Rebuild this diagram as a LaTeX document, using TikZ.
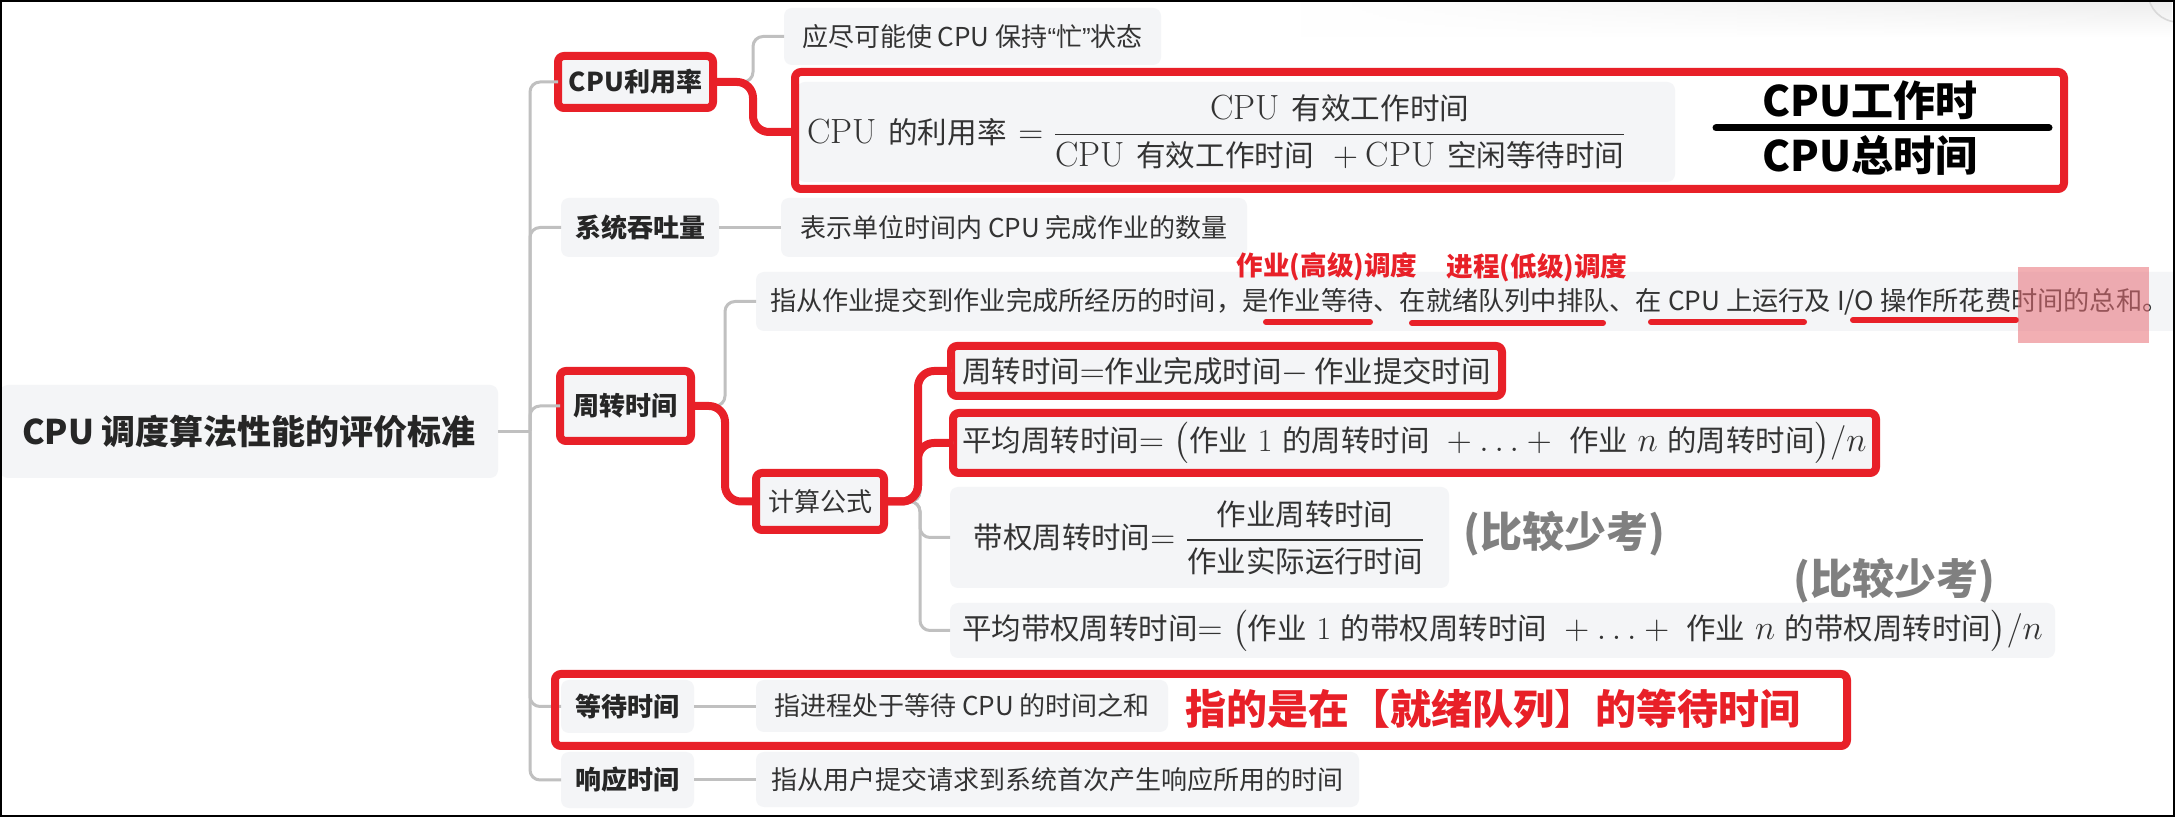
\documentclass[tikz,border=0pt]{standalone}
\usepackage{amsmath}
\usepackage{fontspec}
\usetikzlibrary{fadings}
\newfontfamily\cjk{Noto Sans CJK SC}
\newfontfamily\cjkf{Noto Sans CJK SC}[Scale=0.92]
\newfontfamily\cjkg{Noto Sans CJK SC}[Scale=0.845]
\newfontfamily\lib{Liberation Sans}
\newcommand\fsz[1]{\fontsize{#1}{#1}\selectfont}
\definecolor{boxgray}{RGB}{244,245,247}
\definecolor{conngray}{RGB}{192,192,192}
\definecolor{hlred}{RGB}{232,32,40}
\definecolor{txt}{RGB}{51,51,51}
\definecolor{grayann}{RGB}{128,128,128}
\definecolor{pinkhl}{RGB}{232,110,118}
\tikzfading[name=fadeleft, left color=transparent!100, right color=transparent!0]
\begin{document}
\begin{tikzpicture}[x=0.5pt,y=-0.5pt,
  box/.style={fill=boxgray, rounded corners=4pt, inner xsep=2pt, inner ysep=0pt, outer sep=0pt, text=txt, font=\cjk\fsz{13}, anchor=west},
  lone/.style={box, font=\cjk\bfseries\fsz{13}, text=black!85},
  hl/.style={draw=hlred, line width=4pt, rounded corners=3pt},
  mathbox/.style={box, font=\fsz{16}},
  conn/.style={draw=conngray, line width=1.5pt, rounded corners=5pt},
  hlconn/.style={draw=hlred, line width=4pt, rounded corners=8pt},
  hlframe/.style={draw=hlred, line width=4pt, rounded corners=3pt},
  ann/.style={inner sep=0pt, font=\cjk\bfseries\fsz{13.3}, text=hlred},
  uline/.style={draw=hlred, line width=3pt, line cap=round},
  big/.style={inner sep=0pt, font=\cjk\bfseries\fsz{21}}
]
\useasboundingbox (0,0) rectangle (2175,817);
\fill[white] (0,0) rectangle (2175,817);
\shade[top color=black!7, bottom color=white, path fading=fadeleft] (1300,2) rectangle (2172,38);
\draw[black!15, line width=0.8pt] (2178,-8) circle[radius=30];

% level 0 and 1
\node[box, font=\cjk\bfseries\fsz{17}, text=black!85, minimum width=249pt, minimum height=46.5pt] (root) at (0,431.5) {CPU 调度算法性能的评价标准};
\node[lone, hl, minimum width=77.5pt, minimum height=26pt] (n1) at (558,82) {CPU利用率};
\node[lone, minimum width=79pt, minimum height=29.5pt] (n2) at (561,227.5) {系统吞吐量};
\node[lone, hl, minimum width=65.5pt, minimum height=35pt] (n3) at (560,406) {周转时间};
\node[lone, minimum width=66.5pt, minimum height=26.5pt] (n4) at (561,706.5) {等待时间};
\node[lone, minimum width=66.5pt, minimum height=28pt] (n5) at (561,780) {响应时间};

% level 2+
\node[box, minimum width=188.5pt, minimum height=28.5pt] (c11) at (784,36.5) {应尽可能使 CPU 保持{\lib “}忙{\lib ”}状态};
\node[mathbox, font=\fsz{17.5}, inner xsep=5pt, text width=429pt, align=left, minimum height=50pt] (c12) at (797,132) {CPU {\cjkg 的利用率} $=\dfrac{\mbox{CPU {\cjkg 有效工作时间}}}{\mbox{CPU {\cjkg 有效工作时间} }+\mbox{CPU {\cjkg 空闲等待时间}}}$};
\node[box, minimum width=233pt, minimum height=29.5pt] (c13) at (781,227.5) {表示单位时间内 CPU 完成作业的数量};
\node[box, font=\cjk\fsz{13.12}, inner xsep=7pt, minimum height=29.5pt] (c31) at (756,301.5) {指从作业提交到作业完成所经历的时间，是作业等待、在就绪队列中排队、在 CPU 上运行及 I/O 操作所花费时间的总和。};
\node[box, hl, minimum width=64pt, minimum height=28.5pt] (c41) at (756,501.5) {计算公式};
\node[mathbox, hl, minimum width=275.5pt, minimum height=25pt] (c51) at (951,371) {{\cjkf 周转时间}$=${\cjkf 作业完成时间}$-\,${\cjkf 作业提交时间}};
\node[mathbox, hl, minimum width=461.5pt, minimum height=30pt] (c52) at (953,443) {{\cjkf 平均周转时间}$=\bigl(\mbox{{\cjkf 作业} 1 {\cjkf 的周转时间} }+\ldots+\mbox{ {\cjkf 作业} }n\mbox{ {\cjkf 的周转时间}}\bigr)/n$};
\node[mathbox, minimum width=249.5pt, minimum height=50.5pt] (c53) at (950,537.5) {{\cjkf 带权周转时间}$=\dfrac{\mbox{\cjkf 作业周转时间}}{\mbox{\cjkf 作业实际运行时间}}$};
\node[mathbox, minimum width=552.5pt, minimum height=27.5pt] (c54) at (950,630.5) {{\cjkf 平均带权周转时间}$=\bigl(\mbox{{\cjkf 作业} 1 {\cjkf 的带权周转时间} }+\ldots+\mbox{ {\cjkf 作业} }n\mbox{ {\cjkf 的带权周转时间}}\bigr)/n$};
\node[box, minimum width=206pt, minimum height=26pt] (c61) at (756,706) {指进程处于等待 CPU 的时间之和};
\node[box, minimum width=301.5pt, minimum height=27.5pt] (c71) at (756,779.5) {指从用户提交请求到系统首次产生响应所用的时间};

% gray connectors
\coordinate (tr) at (530,431.5);
\draw[conn] (root.east) -- (tr);
\foreach \n in {n1,n2,n3,n4,n5} \draw[conn] (tr) |- (\n.west);
\draw[conn] (n1.east) -- ++(40,0) |- (c11.west);
\draw[conn] (n2.east) -- (c13.west);
\draw[conn] (n3.east) -- ++(34,0) |- (c31.west);
\foreach \c in {c51,c52,c53,c54} \draw[conn] (c41.east) -- ++(36,0) |- (\c.west);
\draw[conn] (n4.east) -- (n4.east -| c61.west);
\draw[conn] (n5.east) -- (n5.east -| c71.west);

% red connectors
\draw[hlconn] (n1.east) -- ++(40,0) |- (c12.west);
\draw[hlconn] (n3.east) -- ++(34,0) |- (c41.west);
\draw[hlconn] (c41.east) -- ++(34,0) |- (c51.west);
\draw[hlconn] (c41.east) -- ++(34,0) |- (c52.west);

% red frames
\draw[hlframe] (795,72) rectangle (2064,189);
\draw[hlframe] (555,674) rectangle (1847,746);

% annotations
\node[big, text=black] (w1) at (1870,101) {CPU工作时};
\draw[line width=3.5pt, line cap=round] (1716,128) -- (2049,128);
\node[big, text=black] (w2) at (1870,155) {CPU总时间};

\node[ann] (a1) at (1327,267) {作业(高级)调度};
\node[ann] (a2) at (1537,268) {进程(低级)调度};
\draw[uline] (1266,322) -- (1370,322);
\draw[uline] (1412,323) -- (1603,323);
\draw[uline] (1651,322) -- (1804,322);
\draw[uline] (1853,320) -- (2016,320);
\fill[pinkhl, opacity=.55] (2018,267) rectangle (2149,343);

\node[big, text=grayann] (r1) at (1564,534) {(比较少考)};
\node[big, text=grayann] (r2) at (1894,581) {(比较少考)};
\node[big, font=\cjk\bfseries\fsz{20.5}, text=hlred] (r3) at (1493,709) {指的是在【就绪队列】的等待时间};

\draw[black, line width=1pt] (1,1) rectangle (2174,816);
\end{tikzpicture}
\end{document}
